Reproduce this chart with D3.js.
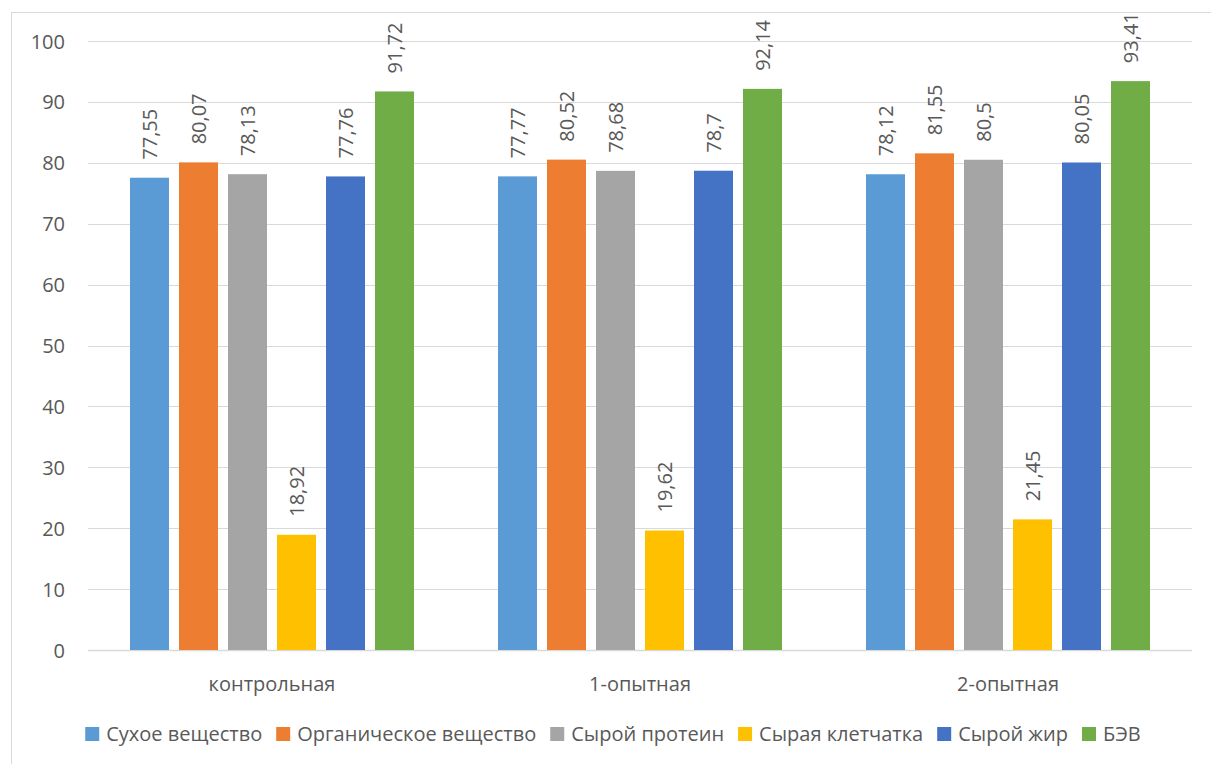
<!DOCTYPE html>
<html>
<head>
<meta charset="utf-8">
<script src="https://cdn.jsdelivr.net/npm/d3@7"></script>
<style>
  html, body { margin: 0; padding: 0; background: #fff; }
  svg { display: block; font-family: "Open Sans", "Noto Sans", sans-serif; }
</style>
</head>
<body>
<svg id="chart" width="1211" height="764"></svg>
<script>
// Digestibility coefficients by group (%)
const groups = ["контрольная", "1-опытная", "2-опытная"];
const seriesNames = ["Сухое вещество", "Органическое вещество", "Сырой протеин", "Сырая клетчатка", "Сырой жир", "БЭВ"];
const seriesColors = ["#5B9BD5", "#ED7D31", "#A5A5A5", "#FFC000", "#4472C4", "#70AD47"];
const dryMatter   = [77.55, 77.77, 78.12];
const organic     = [80.07, 80.52, 81.55];
const protein     = [78.13, 78.68, 80.5];
const fiber       = [18.92, 19.62, 21.45];
const fat         = [77.76, 78.7, 80.05];
const nfe         = [91.72, 92.14, 93.41];
const yTicks = [0, 10, 20, 30, 40, 50, 60, 70, 80, 90, 100];

const seriesValues = [dryMatter, organic, protein, fiber, fat, nfe];

const svg = d3.select("#chart");
const textColor = "#595959";
const gridColor = "#d9d9d9";

// Chart frame
svg.append("rect")
  .attr("x", 11.5).attr("y", 12.5)
  .attr("width", 1230).attr("height", 780)
  .attr("fill", "#fff").attr("stroke", "#d9d9d9").attr("stroke-width", 1);

const plot = { left: 88, right: 1192, top: 41, bottom: 650 };

const x0 = d3.scaleBand().domain(groups).range([plot.left, plot.right]).paddingInner(0).paddingOuter(0);
const groupInner = 284;
const x1 = d3.scaleBand().domain(d3.range(seriesNames.length))
  .range([(x0.bandwidth() - groupInner) / 2, (x0.bandwidth() + groupInner) / 2])
  .paddingInner(10 / 49).paddingOuter(0);
const y = d3.scaleLinear().domain([0, 100]).range([plot.bottom, plot.top]);

// Gridlines
svg.append("g")
  .selectAll("line")
  .data(yTicks)
  .join("line")
  .attr("x1", plot.left).attr("x2", plot.right)
  .attr("y1", d => Math.round(y(d)) + 0.5).attr("y2", d => Math.round(y(d)) + 0.5)
  .attr("stroke", gridColor).attr("stroke-width", d => d === 0 ? 1.5 : 1);

// Y axis tick labels
const yAxis = d3.axisLeft(y).tickValues(yTicks).tickSize(0).tickPadding(0).tickFormat(d3.format("d"));
const yg = svg.append("g").attr("transform", `translate(65,0)`).call(yAxis);
yg.select(".domain").remove();
yg.selectAll("text").attr("fill", textColor).style("font-size", "20px").attr("dy", "0.35em")
  .style("font-family", "'Open Sans', sans-serif");

// Bars
const fmt = v => String(v).replace(".", ",");
const barData = [];
seriesValues.forEach((vals, si) => {
  vals.forEach((v, gi) => barData.push({ si, gi, v }));
});

const bars = svg.append("g");
bars.selectAll("rect")
  .data(barData)
  .join("rect")
  .attr("x", d => x0(groups[d.gi]) + x1(d.si))
  .attr("width", x1.bandwidth())
  .attr("y", d => y(d.v))
  .attr("height", d => y(0) - y(d.v))
  .attr("fill", d => seriesColors[d.si]);

// Rotated value labels above bars
bars.selectAll("text")
  .data(barData)
  .join("text")
  .attr("transform", d => `translate(${x0(groups[d.gi]) + x1(d.si) + x1.bandwidth() / 2},${y(d.v) - 18}) rotate(-90)`)
  .attr("text-anchor", "start")
  .attr("dy", "0.35em")
  .attr("fill", textColor)
  .style("font-size", "20px")
  .text(d => fmt(d.v));

// Category axis labels
const xAxis = d3.axisBottom(x0).tickSize(0).tickPadding(0);
const xg = svg.append("g").attr("transform", `translate(0,684)`).call(xAxis);
xg.select(".domain").remove();
xg.selectAll("text").attr("fill", textColor).style("font-size", "20px").attr("dy", "0.35em")
  .style("font-family", "'Open Sans', sans-serif");

// Legend
const legend = svg.append("g");
const items = legend.selectAll("g").data(seriesNames).join("g");
items.append("rect").attr("width", 14).attr("height", 14).attr("y", -7)
  .attr("fill", (d, i) => seriesColors[i]);
items.append("text").attr("x", 21).attr("dy", "0.35em")
  .attr("fill", textColor).style("font-size", "20px").text(d => d);
const widths = [];
items.each(function() {
  const w = d3.select(this).select("text").node().getComputedTextLength() + 21;
  widths.push(w);
});
const gap = 14;
const total = d3.sum(widths) + gap * (widths.length - 1);
let start = 613 - total / 2;
items.attr("transform", (d, i) => {
  const t = `translate(${start},734)`;
  start += widths[i] + gap;
  return t;
});
</script>
</body>
</html>
